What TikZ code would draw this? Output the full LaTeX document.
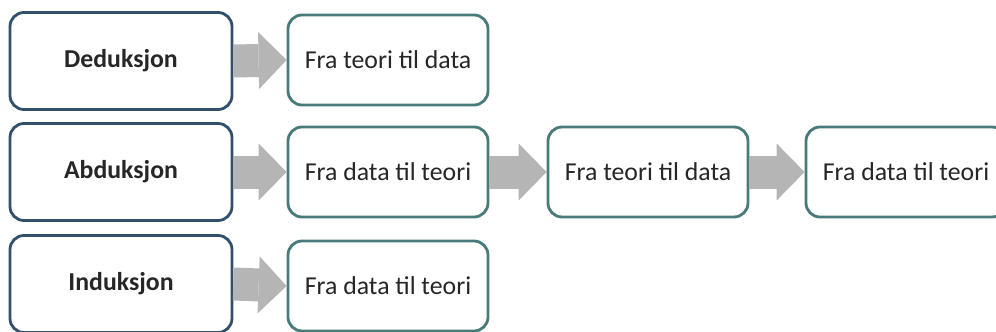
\documentclass[tikz,border=0pt]{standalone}
\usepackage{fontspec}
\setmainfont{Carlito}
\usepackage{tikz}
\usetikzlibrary{arrows.meta}

\definecolor{navyline}{RGB}{50,80,108}
\definecolor{tealline}{RGB}{72,122,122}
\definecolor{arrowgray}{RGB}{181,181,181}
\definecolor{textgray}{RGB}{38,38,38}

\begin{document}
\begin{tikzpicture}
  [lbox/.style={draw=navyline, line width=2.4pt, rounded corners=0.42cm, fill=white,
     minimum width=6.66cm, minimum height=2.91cm, text=textgray,
     font=\fontsize{22}{26}\selectfont\bfseries},
   rbox/.style={draw=tealline, line width=2.4pt, rounded corners=0.42cm, fill=white,
     minimum width=6.0cm, minimum height=2.7cm, text=textgray,
     font=\fontsize{22}{26}\selectfont},
   gap/.style={draw=arrowgray, line width=0.99cm,
     -{Triangle[length=0.84cm, width=1.71cm, line width=0pt]}}]

  \useasboundingbox (0,0) rectangle (29.88,-9.96);
  \clip (0,0) rectangle (29.88,-9.96);

  % left column
  \node[lbox] (ded) at (3.63, -1.83) {Deduksjon};
  \node[lbox] (abd) at (3.63, -5.16) {Abduksjon};
  \node[lbox] (ind) at (3.63, -8.52) {Induksjon};

  % deduction row
  \node[rbox] (ded1) at (11.64, -1.80) {Fra teori til data};
  \draw[gap] (ded.east) -- (ded1.west);

  % abduction row
  \node[rbox] (abd1) at (11.64, -5.16) {Fra data til teori};
  \node[rbox] (abd2) at (19.44, -5.16) {Fra teori til data};
  \node[rbox] (abd3) at (27.18, -5.16) {Fra data til teori};
  \draw[gap] (abd.east) -- (abd1.west);
  \draw[gap] (abd1.east) -- (abd2.west);
  \draw[gap] (abd2.east) -- (abd3.west);

  % induction row
  \node[rbox] (ind1) at (11.64, -8.58) {Fra data til teori};
  \draw[gap] (ind.east) -- (ind1.west);

\end{tikzpicture}
\end{document}
